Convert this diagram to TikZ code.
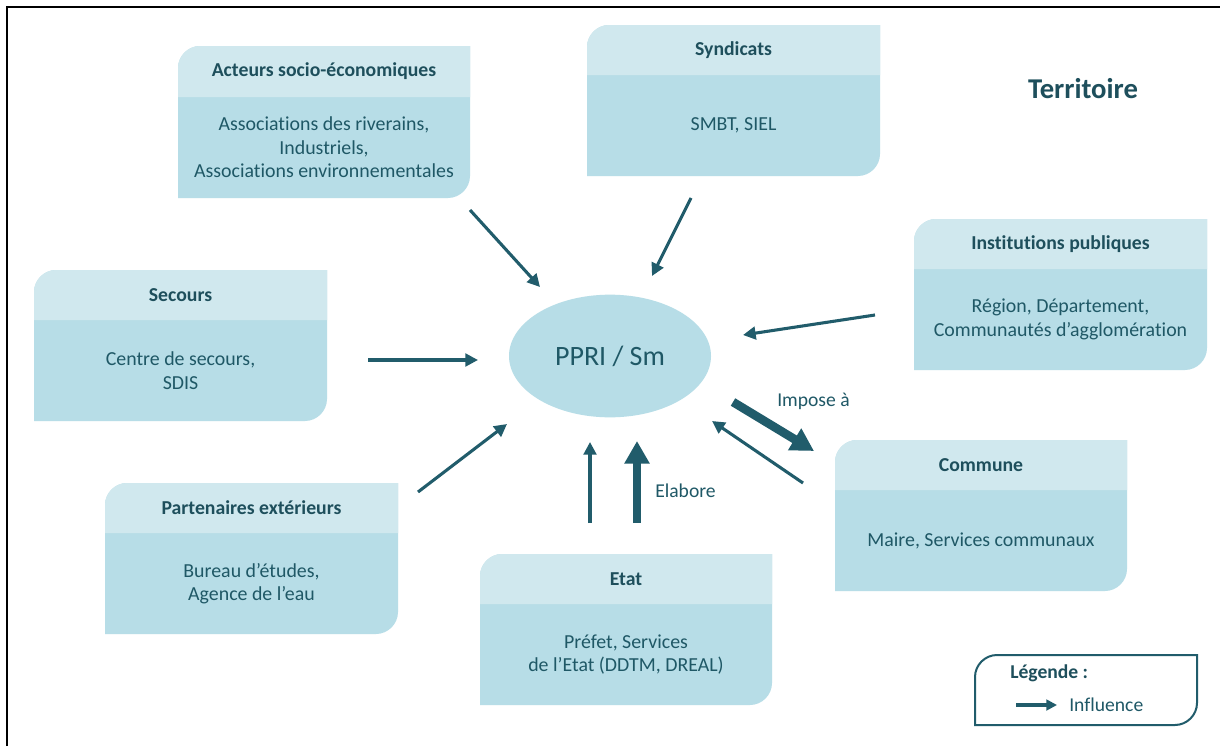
\documentclass[tikz,border=0pt]{standalone}
\usepackage{fontspec}
\setmainfont[Ligatures=NoCommon]{Carlito}
\usetikzlibrary{arrows.meta,shapes.geometric}
\definecolor{headc}{HTML}{D0E8EE}
\definecolor{bodyc}{HTML}{B7DDE7}
\definecolor{txtc}{HTML}{1F5866}
\definecolor{ttlc}{HTML}{1E4F5C}
\definecolor{arrc}{HTML}{215C6B}
\newcommand{\tbox}[8]{%
  % #1 name, #2 x0, #3 y0, #4 x1, #5 y1, #6 header bottom, #7 title, #8 body
  \fill[bodyc] (#2,#5) -- (#2,#3+22) .. controls (#2,#3+10) and (#2+10,#3) .. (#2+22,#3)
     -- (#4,#3) -- (#4,#5-22) .. controls (#4,#5-10) and (#4-10,#5) .. (#4-22,#5) -- cycle;
  \fill[headc] (#2,#6) -- (#2,#3+22) .. controls (#2,#3+10) and (#2+10,#3) .. (#2+22,#3)
     -- (#4,#3) -- (#4,#6) -- cycle;
  \node[ttl] (#1t) at ({(#2+#4)/2},{(#3+#6)/2}) {#7};
  \node[bdy] (#1) at ({(#2+#4)/2},{(#6+#5)/2}) {#8};
}
\tikzset{
  ttl/.style={font=\fontsize{14.8pt}{17pt}\selectfont\bfseries, text=ttlc, inner sep=0pt},
  bdy/.style={font=\fontsize{14.9pt}{17.6pt}\selectfont, text=txtc, align=center, inner sep=0pt},
  lbl/.style={font=\fontsize{14.7pt}{17pt}\selectfont, text=txtc, anchor=west, inner sep=0pt},
  thin arrow/.style={draw=arrc, line width=2.3pt, -{Triangle[length=9.5pt,width=9.5pt]}},
  thick arrow/.style={draw=arrc, line width=6.5pt, -{Triangle[length=17pt,width=18pt]}},
}
\begin{document}
\begin{tikzpicture}[x=0.75pt,y=-0.75pt]
\useasboundingbox (0,0) rectangle (1220,746);
\fill[white] (0,0) rectangle (1220,746);
\draw[black, line width=2pt] (7,746) -- (7,7) -- (1222,7);

\tbox{acteurs}{178}{46}{470}{198}{97}{Acteurs socio-économiques}{Associations des riverains,\\Industriels,\\Associations environnementales}
\tbox{syndicats}{587}{25}{880}{176}{75}{Syndicats}{SMBT, SIEL}
\tbox{institutions}{914}{219}{1207}{370}{269}{Institutions publiques}{Région, Département,\\Communautés d’agglomération}
\tbox{secours}{34}{270}{327}{421}{320}{Secours}{Centre de secours,\\SDIS}
\tbox{partenaires}{105}{483}{398}{634}{533}{Partenaires extérieurs}{Bureau d’études,\\Agence de l’eau}
\tbox{etat}{480}{554}{772}{705}{604}{Etat}{Préfet, Services\\de l’Etat (DDTM, DREAL)}
\tbox{commune}{835}{440}{1127}{591}{490}{Commune}{Maire, Services communaux}

\node[ellipse, fill=bodyc, minimum width=151.5pt, minimum height=92pt, inner sep=0pt,
      font=\fontsize{21pt}{25pt}\selectfont, text=txtc] (ppri) at (610,356) {PPRI / Sm};

\node[font=\fontsize{21.5pt}{25pt}\selectfont\bfseries, text=ttlc] (territoire) at (1083,89) {Territoire};

% arrow end points
\coordinate (a1s) at (470,210); \coordinate (a1e) at (540,287);
\coordinate (a2s) at (691,198); \coordinate (a2e) at (652,276);
\coordinate (a3s) at (875,315); \coordinate (a3e) at (743,335);
\coordinate (a4s) at (368,360); \coordinate (a4e) at (478,360);
\coordinate (a5s) at (418,492); \coordinate (a5e) at (507,424);
\coordinate (a6s) at (590,523); \coordinate (a6e) at (590,442);
\coordinate (a7s) at (637,523); \coordinate (a7e) at (637,441);
\coordinate (a8s) at (733,402); \coordinate (a8e) at (814,451);
\coordinate (a9s) at (803,483); \coordinate (a9e) at (712,421);

\draw[thin arrow] (a1s) -- (a1e);
\draw[thin arrow] (a2s) -- (a2e);
\draw[thin arrow] (a3s) -- (a3e);
\draw[thin arrow] (a4s) -- (a4e);
\draw[thin arrow] (a5s) -- (a5e);
\draw[thin arrow] (a6s) -- (a6e);
\draw[thick arrow] (a7s) -- (a7e);
\draw[thick arrow] (a8s) -- (a8e);
\draw[thin arrow] (a9s) -- (a9e);

\node[lbl] (impose) at (777,401) {Impose à};
\node[lbl] (elabore) at (655,491) {Elabore};

% legend
\draw[arrc, line width=1.5pt, fill=white] (975,725) -- (975,677) .. controls (975,665) and (985,655) .. (997,655)
  -- (1197,655) -- (1197,703) .. controls (1197,715) and (1187,725) .. (1175,725) -- cycle;
\node[lbl, font=\fontsize{14.7pt}{17pt}\selectfont\bfseries, text=ttlc] (leg) at (1010,673) {Légende :};
\coordinate (l1) at (1016,705); \coordinate (l2) at (1057,705);
\draw[draw=arrc, line width=2.3pt, -{Triangle[length=8pt,width=8pt]}] (l1) -- (l2);
\node[lbl] (infl) at (1069,705) {Influence};
\end{tikzpicture}
\end{document}
